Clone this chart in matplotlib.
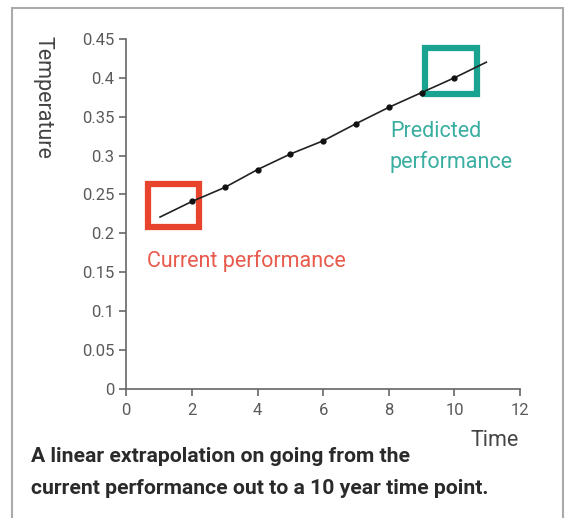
import numpy as np
import matplotlib.pyplot as plt
from matplotlib.patches import Rectangle

# data
years = [2, 3, 4, 5, 6, 7, 8, 9, 10]
temps = [0.241, 0.259, 0.282, 0.302, 0.319, 0.341, 0.362, 0.381, 0.400]
line_x = [1.03] + years + [10.97]
line_y = [0.221] + temps + [0.420]

x_ticks = [0, 2, 4, 6, 8, 10, 12]
y_ticks = [0, 0.05, 0.1, 0.15, 0.2, 0.25, 0.3, 0.35, 0.4, 0.45]
y_tick_labels = ['0', '0.05', '0.1', '0.15', '0.2', '0.25', '0.3', '0.35', '0.4', '0.45']

red_box = (0.65, 0.208, 2.23, 0.264)     # x0, y0, x1, y1
teal_box = (9.1, 0.379, 10.7, 0.438)

red = '#e8432c'
red_txt = '#e85a4c'
teal = '#1ba391'
teal_txt = '#3aaea0'
grey = '#5a5a5a'

plt.rcParams['font.family'] = ['Roboto', 'DejaVu Sans']

fig = plt.figure(figsize=(5.66, 5.18), dpi=100)
ax = fig.add_axes([0.223, 0.249, 0.696, 0.676])

ax.plot(line_x, line_y, color='#222222', linewidth=1.2, zorder=3)
ax.plot(years, temps, 'o', color='#111111', markersize=3.5, zorder=4)

for (x0, y0, x1, y1), c in [(red_box, red), (teal_box, teal)]:
    ax.add_patch(Rectangle((x0, y0), x1 - x0, y1 - y0, fill=False,
                           edgecolor=c, linewidth=4.5, zorder=2))

ax.text(0.64, 0.1646, 'Current performance', color=red_txt, fontsize=15.5,
        ha='left', va='center')
ax.text(8.03, 0.3315, 'Predicted', color=teal_txt, fontsize=15.5,
        ha='left', va='center')
ax.text(8.03, 0.2915, 'performance', color=teal_txt, fontsize=15.5,
        ha='left', va='center')

ax.set_xlim(0, 12)
ax.set_ylim(0, 0.45)
ax.set_xticks(x_ticks)
ax.set_yticks(y_ticks)
ax.set_yticklabels(y_tick_labels)
ax.tick_params(axis='both', colors=grey, labelsize=12, length=5, width=1.1)
ax.tick_params(axis='x', pad=5)
for s in ['top', 'right']:
    ax.spines[s].set_visible(False)
for s in ['left', 'bottom']:
    ax.spines[s].set_color('#666666')
    ax.spines[s].set_linewidth(1.2)

fig.text(43 / 566, 1 - 97 / 518, 'Temperature', rotation=270, color='#444444',
         fontsize=15.5, ha='center', va='center')
fig.text(519 / 566, 1 - 440 / 518, 'Time', color='#444444', fontsize=15.5,
         ha='right', va='center')

fig.text(31 / 566, 1 - 457 / 518, 'A linear extrapolation on going from the',
         color='#2a2a2a', fontsize=15.2, fontweight='bold', ha='left', va='center')
fig.text(31 / 566, 1 - 488 / 518, 'current performance out to a 10 year time point.',
         color='#2a2a2a', fontsize=15.2, fontweight='bold', ha='left', va='center')

# grey frame around the figure
fig.patches.append(Rectangle((12 / 566, -0.05), (563 - 12) / 566, 1 - 8 / 518 + 0.05,
                             transform=fig.transFigure, fill=False,
                             edgecolor='#aaaaaa', linewidth=1.5))

fig.savefig('out.png', dpi=100)
